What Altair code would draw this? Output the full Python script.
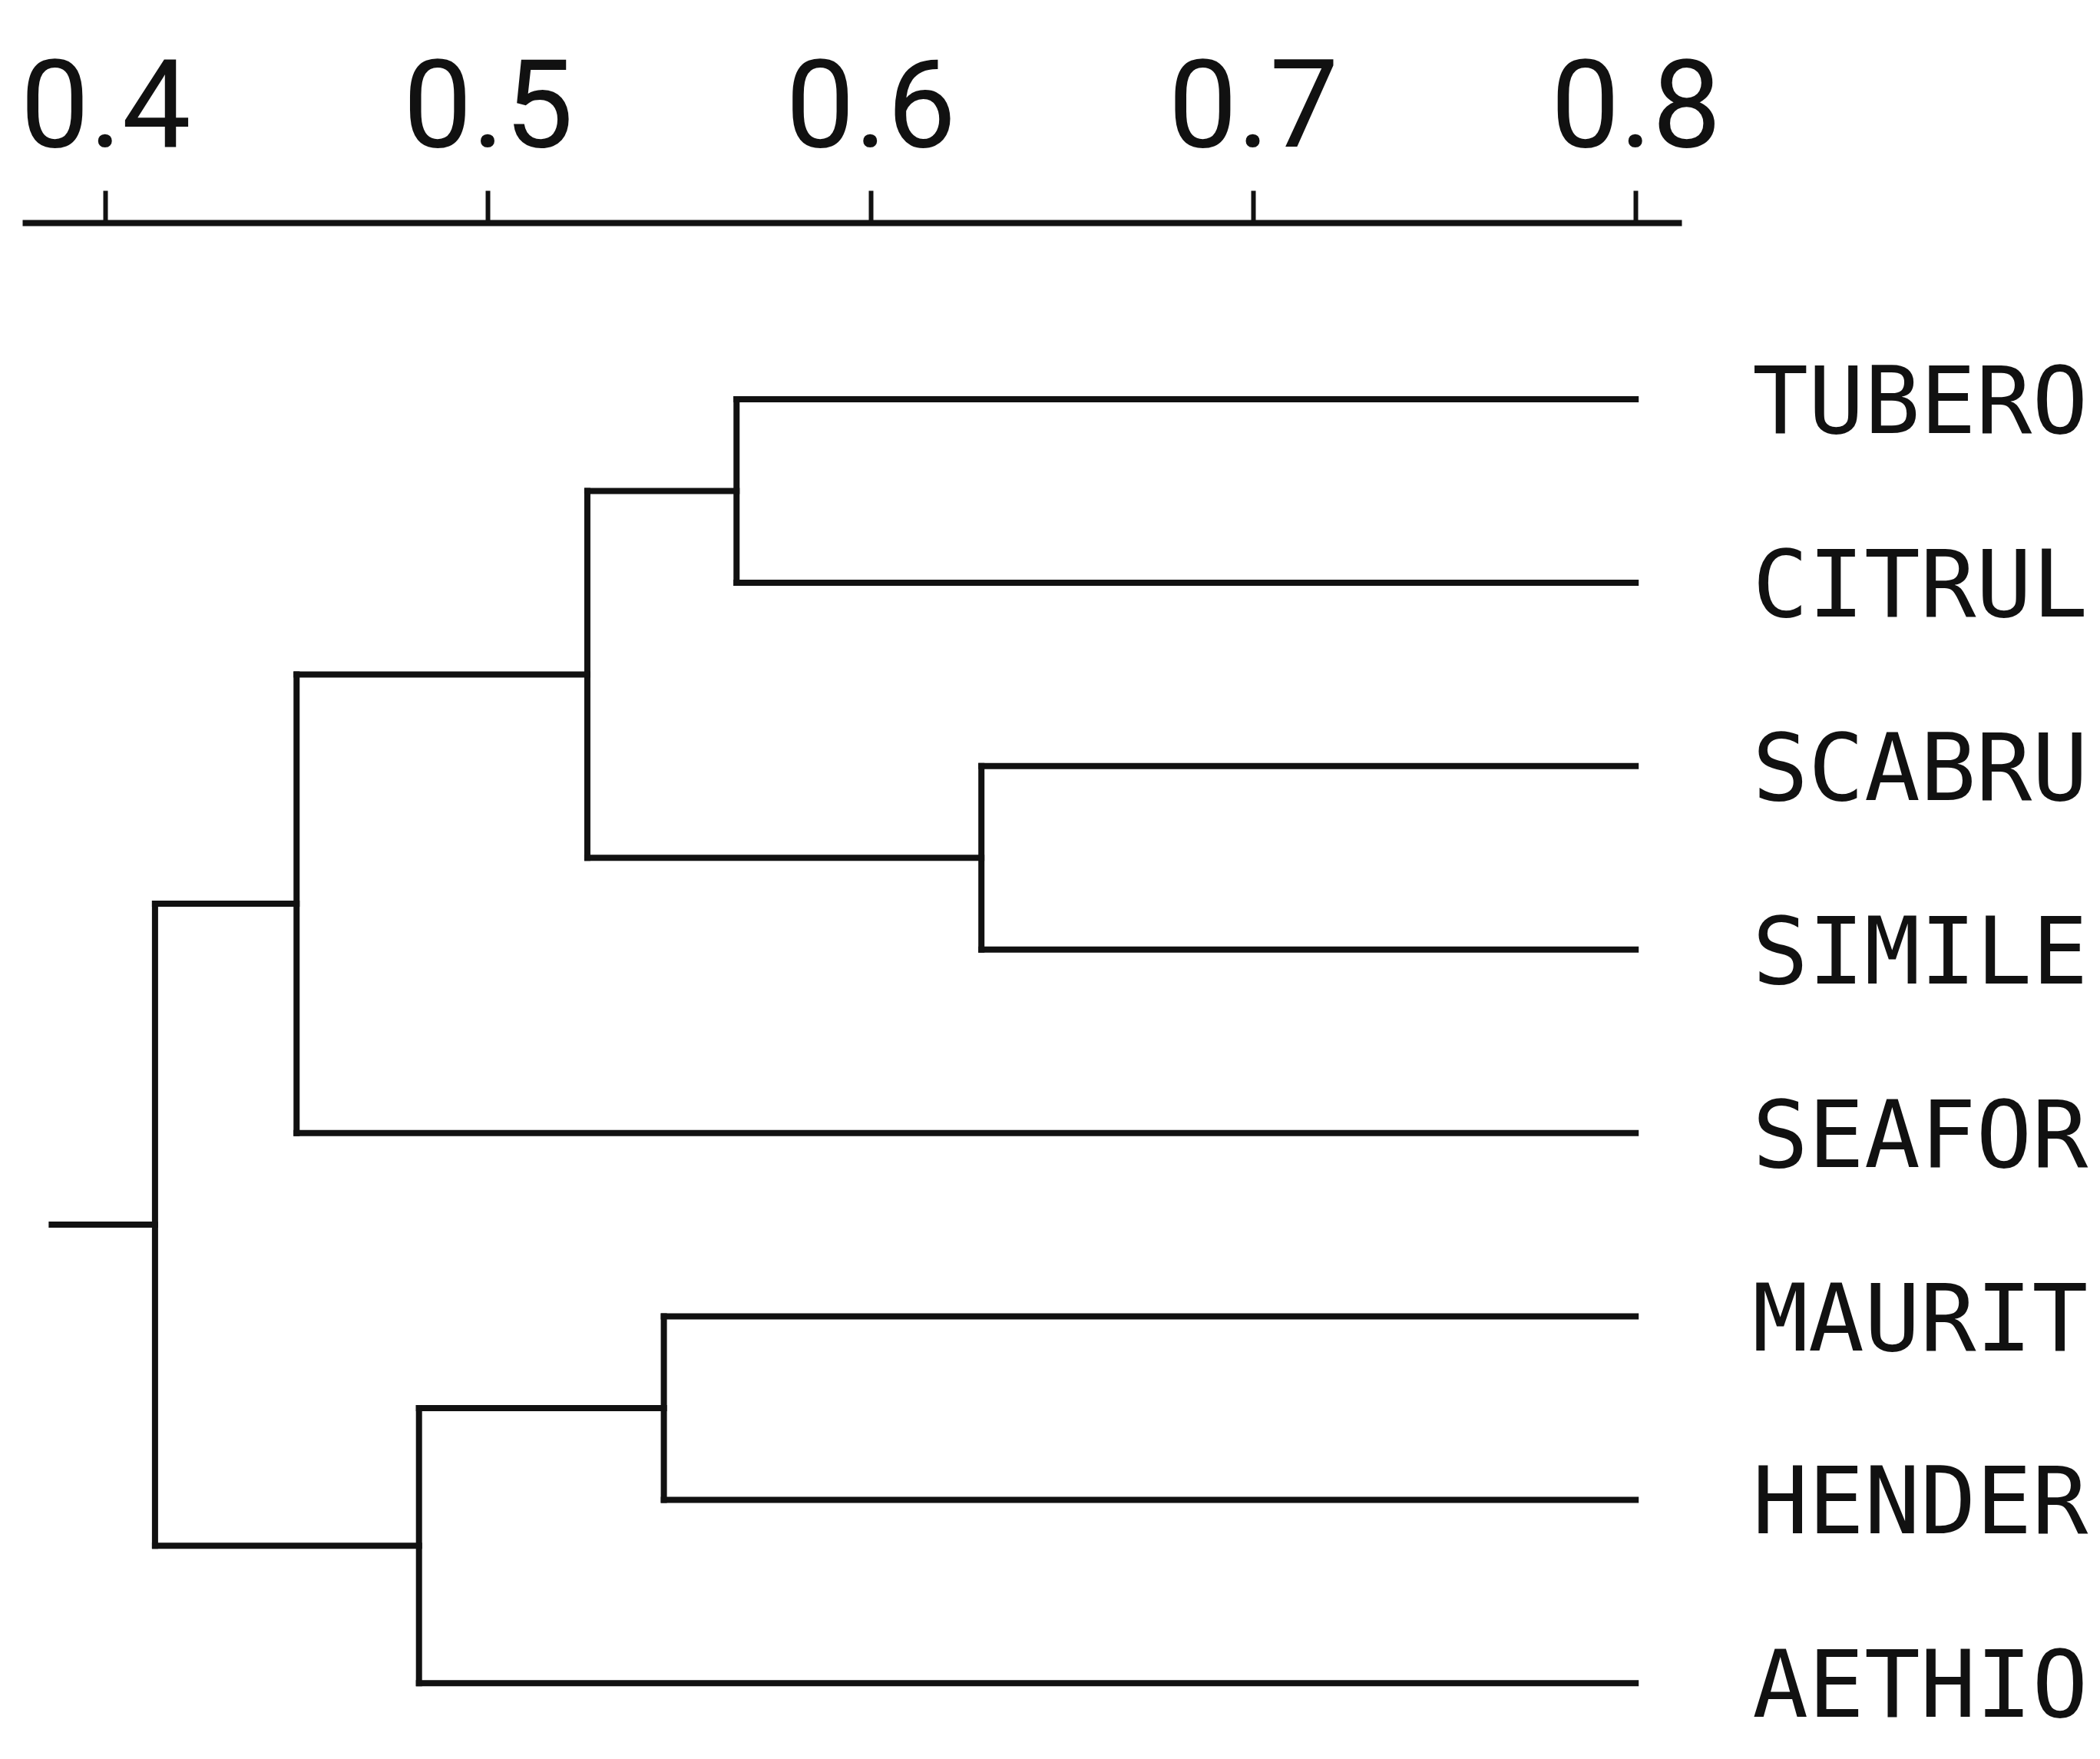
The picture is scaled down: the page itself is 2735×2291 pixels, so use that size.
import altair as alt
import pandas as pd

# Leaves, top to bottom
leaves = ["TUBERO", "CITRUL", "SCABRU", "SIMILE", "SEAFOR", "MAURIT", "HENDER", "AETHIO"]
leaf_value = 0.8  # leaves end at 0.8

# Merges: (child a, child b, similarity level); leaves 0..7, new nodes numbered from 8
merge_a = [0, 2, 8, 10, 5, 12, 11]
merge_b = [1, 3, 9, 4, 6, 7, 13]
merge_level = [0.565, 0.629, 0.526, 0.450, 0.546, 0.482, 0.413]
root_stem_end = 0.386

tick_values = [0.4, 0.5, 0.6, 0.7, 0.8]

# ---- build dendrogram segments from the merge table ----
pos = {i: float(i) for i in range(len(leaves))}
lev = {i: leaf_value for i in range(len(leaves))}
segs = []
for k, (a, b, h) in enumerate(zip(merge_a, merge_b, merge_level)):
    node = len(leaves) + k
    for c in (a, b):
        segs.append({"x": lev[c], "x2": h, "y": pos[c], "y2": pos[c]})
    segs.append({"x": h, "x2": h, "y": pos[a], "y2": pos[b]})
    pos[node] = (pos[a] + pos[b]) / 2
    lev[node] = h
root = len(leaves) + len(merge_level) - 1
segs.append({"x": lev[root], "x2": root_stem_end, "y": pos[root], "y2": pos[root]})
seg_df = pd.DataFrame(segs)

lab_df = pd.DataFrame({"name": leaves, "y": list(range(len(leaves))),
                       "end": [leaf_value] * len(leaves)})

xscale = alt.Scale(domain=[0.3783, 0.812], nice=False, zero=False)
yscale = alt.Scale(domain=[-0.963, 7.3], nice=False, zero=False, reverse=True)
xaxis = alt.Axis(orient="top", values=tick_values, format=".1f", title=None, grid=False,
                 domainColor="#111", domainWidth=8, tickColor="#111", tickWidth=6,
                 tickSize=42, labelFont="Roboto", labelFontSize=160,
                 labelColor="#111", labelPadding=58, labelBaseline="alphabetic",
                 labelFlush=False, labelOverlap=False, labelLimit=0)

lines = alt.Chart(seg_df).mark_rule(color="#111", strokeWidth=8, strokeCap="square").encode(
    x=alt.X("x:Q", scale=xscale, axis=xaxis),
    x2="x2:Q",
    y=alt.Y("y:Q", scale=yscale, axis=None),
    y2="y2:Q",
)

labels = alt.Chart(lab_df).mark_text(
    align="left", baseline="alphabetic", dx=152, dy=44,
    font="DejaVu Sans Mono", fontSize=121, color="#111"
).encode(
    x=alt.X("end:Q", scale=xscale, axis=xaxis),
    y=alt.Y("y:Q", scale=yscale, axis=None),
    text="name:N",
)

chart = alt.layer(lines, labels).properties(
    width=2161, height=1974,
    background="white",
    autosize=alt.AutoSizeParams(type="none"),
    padding={"left": 21, "top": 282, "right": 530, "bottom": 10},
).configure_view(stroke=None, strokeWidth=0)

chart.save("out.html", embed_options={"renderer": "svg", "actions": False})
